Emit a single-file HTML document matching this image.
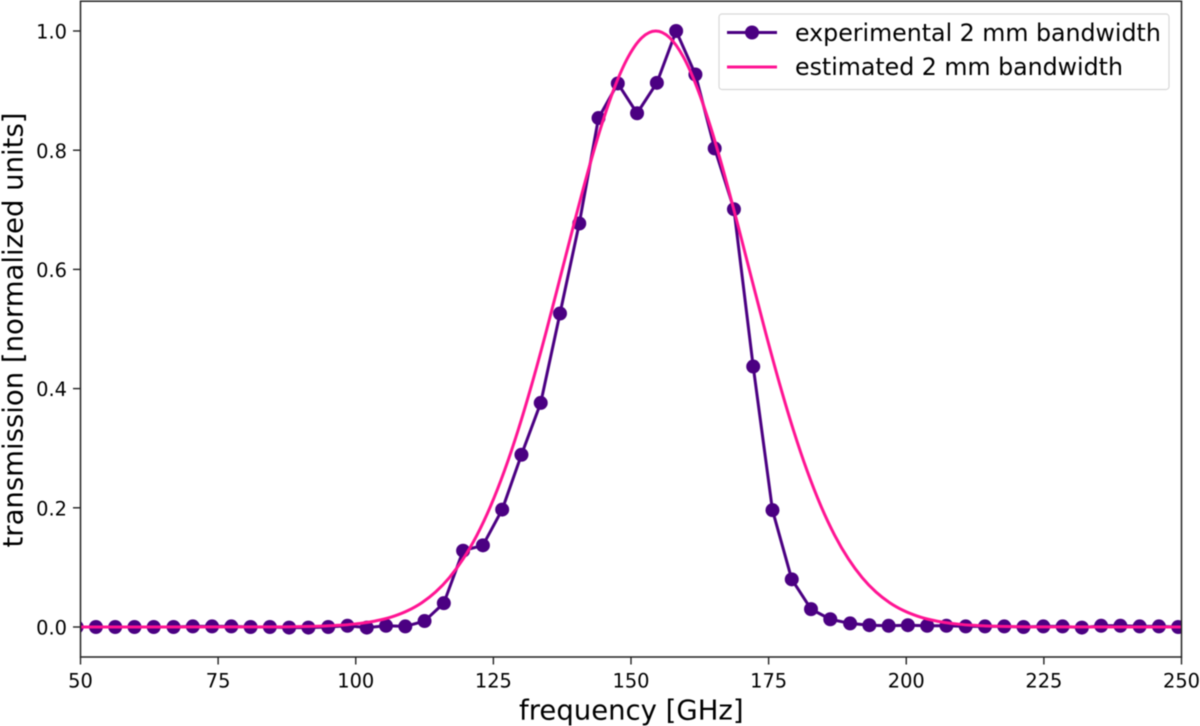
<!DOCTYPE html>
<html>
<head>
<meta charset="utf-8">
<title>2 mm bandwidth transmission</title>
<style>
html,body{margin:0;padding:0;background:#fff;width:1200px;height:726px;overflow:hidden}
svg{display:block;filter:blur(0.4px)}
text{font-family:"DejaVu Sans","Liberation Sans",sans-serif;fill:#000}
</style>
</head>
<body>
<svg id="chart" width="1200" height="726" viewBox="0 0 1200 726" xmlns="http://www.w3.org/2000/svg">
  <defs>
    <clipPath id="plot-clip"><rect x="80.5" y="1" width="1101" height="656"></rect></clipPath>
  </defs>
  <g id="series-layer" clip-path="url(#plot-clip)"></g>
  <g id="tick-layer"></g>
  <rect x="80.5" y="1.2" width="1101" height="655.8" fill="none" stroke="#222" stroke-width="1.5"></rect>
  <text x="631.3" y="719.3" font-size="27.5" text-anchor="middle">frequency [GHz]</text>
  <text transform="translate(22.5,330) rotate(-90)" font-size="27.5" text-anchor="middle">transmission [normalized units]</text>
  <g>
    <rect x="719" y="14" width="450" height="75.5" rx="3" fill="#fff" fill-opacity="0.85" stroke="#d8d8d8" stroke-width="1.2"></rect>
    <g>
      <line x1="727" x2="777" y1="32.5" y2="32.5" stroke="#4b0082" stroke-width="3"></line>
      <circle cx="752" cy="32.5" r="7" fill="#4b0082"></circle>
      <text x="795" y="40.8" font-size="23.7">experimental 2 mm bandwidth</text>
    </g>
    <g>
      <line x1="727" x2="777" y1="67" y2="67" stroke="#ff1493" stroke-width="3"></line>
      <text x="795" y="75.2" font-size="23.7">estimated 2 mm bandwidth</text>
    </g>
  </g>
</svg>
<script>
const xTickLabels = [50, 75, 100, 125, 150, 175, 200, 225, 250];
const yTickLabels = ["0.0", "0.2", "0.4", "0.6", "0.8", "1.0"];
const experimentalFrequency = [49.3,52.8,56.3,59.8,63.3,66.9,70.4,73.9,77.4,80.9,84.4,87.9,91.4,95.0,98.5,102.0,105.5,109.0,112.5,116.0,119.5,123.1,126.6,130.1,133.6,137.1,140.6,144.1,147.6,151.1,154.7,158.2,161.7,165.2,168.7,172.2,175.7,179.2,182.7,186.2,189.8,193.3,196.8,200.3,203.8,207.3,210.8,214.3,217.8,221.3,224.9,228.4,231.9,235.4,238.9,242.4,245.9,249.4];
const experimentalTransmission = [0,0,0,0,0,0,0.001,0.001,0.001,0,0,-0.001,-0.001,0,0.002,-0.001,0.002,0.001,0.01,0.04,0.128,0.137,0.197,0.289,0.376,0.526,0.677,0.854,0.912,0.862,0.913,1,0.927,0.803,0.701,0.437,0.196,0.08,0.03,0.013,0.006,0.003,0.002,0.003,0.002,0.002,0.001,0.001,0.001,0,0.001,0.001,-0.001,0.002,0.002,0.001,0.001,0];
const estimatedFrequency = [50,84.5,87,89.5,92,94.5,97,99.5,102,104.5,107,109.5,112,114.5,117,119.5,122,124.5,127,129.5,132,134.5,137,139.5,142,144.5,147,149.5,152,154.5,157,159.5,162,164.5,167,169.5,172,174.5,177,179.5,182,184.5,187,189.5,192,194.5,197,199.5,202,204.5,207,209.5,212,214.5,217,219.5,222,224.5,250];
const estimatedTransmission = [0,0.00017,0.00031,0.00056,0.00099,0.0017,0.00286,0.00471,0.00758,0.01193,0.01837,0.02767,0.04077,0.05874,0.0828,0.11416,0.15392,0.20304,0.26193,0.33048,0.40786,0.49232,0.58128,0.67132,0.75824,0.83765,0.90516,0.95668,0.98899,1,0.98899,0.95668,0.90516,0.83765,0.75824,0.67132,0.58128,0.49232,0.40786,0.33048,0.26193,0.20304,0.15392,0.11416,0.0828,0.05874,0.04077,0.02767,0.01837,0.01193,0.00758,0.00471,0.00286,0.0017,0.00099,0.00056,0.00031,0.00017,0];

const SVG_NS = 'http://www.w3.org/2000/svg';
function xScale(f) { return 80.5 + (f - 50) * 1101 / 200; }
function yScale(v) { return 627 - v * 596; }

const seriesLayer = document.getElementById('series-layer');
const tickLayer = document.getElementById('tick-layer');

xTickLabels.forEach(function (label) {
  const px = xScale(label);
  const tick = document.createElementNS(SVG_NS, 'line');
  
  
  tick.setAttribute('x1', px);
  tick.setAttribute('x2', px);
  tick.setAttribute('y1', 657);
  tick.setAttribute('y2', 664.5);
  tick.setAttribute('stroke', '#222');
  tick.setAttribute('stroke-width', 1.4);
  tickLayer.appendChild(tick);
  const text = document.createElementNS(SVG_NS, 'text');
  
  
  text.setAttribute('x', px);
  text.setAttribute('y', 687.3);
  text.setAttribute('font-size', 19.4);
  text.setAttribute('text-anchor', 'middle');
  text.textContent = label;
  tickLayer.appendChild(text);
});

yTickLabels.forEach(function (label) {
  const py = yScale(parseFloat(label));
  const tick = document.createElementNS(SVG_NS, 'line');
  
  
  tick.setAttribute('x1', 73);
  tick.setAttribute('x2', 80.5);
  tick.setAttribute('y1', py);
  tick.setAttribute('y2', py);
  tick.setAttribute('stroke', '#222');
  tick.setAttribute('stroke-width', 1.4);
  tickLayer.appendChild(tick);
  const text = document.createElementNS(SVG_NS, 'text');
  
  
  text.setAttribute('x', 67);
  text.setAttribute('y', py + 7.6);
  text.setAttribute('font-size', 19.4);
  text.setAttribute('text-anchor', 'end');
  text.textContent = label;
  tickLayer.appendChild(text);
});

const experimentalLine = document.createElementNS(SVG_NS, 'polyline');


experimentalLine.setAttribute('points', experimentalFrequency.map(function (f, i) {
  return xScale(f).toFixed(2) + ',' + yScale(experimentalTransmission[i]).toFixed(2);
}).join(' '));
experimentalLine.setAttribute('fill', 'none');
experimentalLine.setAttribute('stroke', '#4b0082');
experimentalLine.setAttribute('stroke-width', 3);
experimentalLine.setAttribute('stroke-linejoin', 'round');
seriesLayer.appendChild(experimentalLine);

experimentalFrequency.forEach(function (f, i) {
  const dot = document.createElementNS(SVG_NS, 'circle');
  
  
  dot.setAttribute('cx', xScale(f).toFixed(2));
  dot.setAttribute('cy', yScale(experimentalTransmission[i]).toFixed(2));
  dot.setAttribute('r', 7);
  dot.setAttribute('fill', '#4b0082');
  seriesLayer.appendChild(dot);
});

const pts = estimatedFrequency.map(function (f, i) {
  return [xScale(f), yScale(estimatedTransmission[i])];
});
let d = 'M' + pts[0][0].toFixed(2) + ' ' + pts[0][1].toFixed(2);
for (let i = 0; i < pts.length - 1; i++) {
  const p0 = pts[Math.max(i - 1, 0)], p1 = pts[i], p2 = pts[i + 1], p3 = pts[Math.min(i + 2, pts.length - 1)];
  if (p2[0] - p1[0] > 40) {
    d += ' L' + p2[0].toFixed(2) + ' ' + p2[1].toFixed(2);
    continue;
  }
  const c1x = p1[0] + (p2[0] - p1[0]) / 3;
  const c2x = p2[0] - (p2[0] - p1[0]) / 3;
  const c1y = p1[1] + (p2[1] - p0[1]) / 6;
  const c2y = p2[1] - (p3[1] - p1[1]) / 6;
  d += ' C' + c1x.toFixed(2) + ' ' + c1y.toFixed(2) + ' ' + c2x.toFixed(2) + ' ' + c2y.toFixed(2) + ' ' + p2[0].toFixed(2) + ' ' + p2[1].toFixed(2);
}
const estimatedLine = document.createElementNS(SVG_NS, 'path');


estimatedLine.setAttribute('d', d);
estimatedLine.setAttribute('fill', 'none');
estimatedLine.setAttribute('stroke', '#ff1493');
estimatedLine.setAttribute('stroke-width', 3);
seriesLayer.appendChild(estimatedLine);
</script>
</body>
</html>
